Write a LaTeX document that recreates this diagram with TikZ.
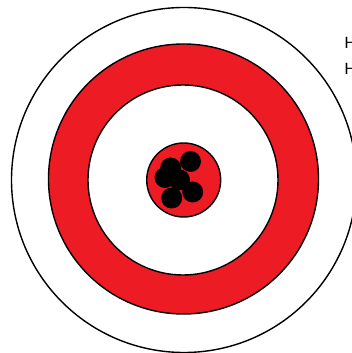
\documentclass[tikz,border=0pt]{standalone}
\usepackage{fontspec}
\setmainfont{Carlito}
\definecolor{tred}{HTML}{ED1C24}
\begin{document}
\begin{tikzpicture}[x=1pt,y=1pt,
  ring/.style={circle,draw=black,line width=1.4pt,inner sep=0pt},
  hole/.style={circle,fill=black,inner sep=0pt,minimum size=21pt},
  lbl/.style={anchor=base west,inner sep=0pt,font=\fontsize{17.5}{20}\selectfont}]
\useasboundingbox (0,0) rectangle (352,353);
\clip (0,0) rectangle (352,353);
\node[ring,fill=white,minimum size=345pt] (outer) at (184,173) {};
\node[ring,fill=tred,minimum size=270pt] (redring) at (183.5,174) {};
\node[ring,fill=white,minimum size=190pt] (whitering) at (183,173) {};
\node[ring,fill=tred,minimum size=74pt] (bull) at (183.7,173) {};
\node[hole] (h1) at (190.5,191.5) {};
\node[hole] (h2) at (170.7,185) {};
\node[hole] (h3) at (165,175.5) {};
\node[hole] (h4) at (179.5,173) {};
\node[hole] (h5) at (192.7,161) {};
\node[hole] (h6) at (171.7,155) {};
\node[lbl] (t1) at (344.5,304) {H};
\node[lbl] (t2) at (344.5,278.5) {H};
\end{tikzpicture}
\end{document}
